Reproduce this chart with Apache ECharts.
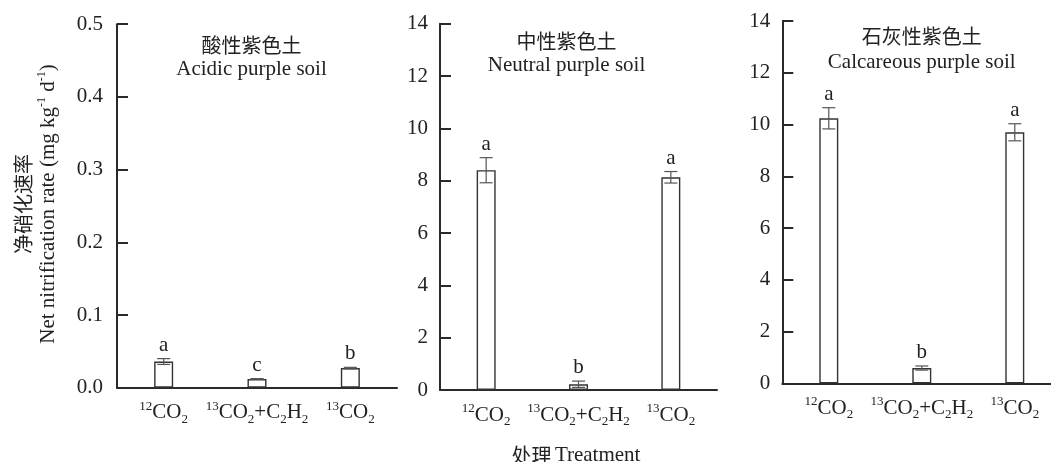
<!DOCTYPE html>
<html>
<head>
<meta charset="utf-8">
<script src="https://cdn.jsdelivr.net/npm/echarts@6/dist/echarts.min.js"></script>
<style>
html,body{margin:0;padding:0;background:#fff;}
#chart{width:1051px;height:462px;}
</style>
</head>
<body>
<div id="chart"></div>
<script>
// ---- data ----
var categories = ['12CO2', '13CO2+C2H2', '13CO2'];
var categoryLabels = [
  '{sup|12}{base|CO}{sub|2}',
  '{sup|13}{base|CO}{sub|2}{base|+C}{sub|2}{base|H}{sub|2}',
  '{sup|13}{base|CO}{sub|2}'
];
var panelTitlesCn = ['酸性紫色土', '中性紫色土', '石灰性紫色土'];
var panelTitlesEn = ['Acidic purple soil', 'Neutral purple soil', 'Calcareous purple soil'];

var acidicMeans = [0.036, 0.012, 0.027];
var acidicErr = [0.004, 0.0005, 0.001];
var acidicLetters = ['a', 'c', 'b'];

var neutralMeans = [8.40, 0.22, 8.13];
var neutralErr = [0.48, 0.12, 0.22];
var neutralLetters = ['a', 'b', 'a'];

var calcMeans = [10.24, 0.59, 9.70];
var calcErr = [0.41, 0.08, 0.33];
var calcLetters = ['a', 'b', 'a'];

var acidicTicks = [0, 0.5, 0.1];   // min, max, interval
var otherTicks = [0, 14, 2];

var yTitleCn = '净硝化速率';
var xTitle = '处理 Treatment';

// ---- styling ----
var FONT = '"Liberation Serif", "Times New Roman", "Noto Sans CJK SC", serif';
var TXT = '#222';
var AX = '#2a2a2a';

var chart = echarts.init(document.getElementById('chart'), null, {renderer: 'canvas'});

var grids = [
  {left: 117, top: 24.2, width: 280, height: 363.5},
  {left: 440, top: 23.7, width: 277, height: 366.3},
  {left: 782.3, top: 21, width: 279, height: 362.3}
];

var panels = [
  {means: acidicMeans, err: acidicErr, letters: acidicLetters, ticks: acidicTicks, digits: 1, labelMargin: 14},
  {means: neutralMeans, err: neutralErr, letters: neutralLetters, ticks: otherTicks, digits: 0, labelMargin: 12},
  {means: calcMeans, err: calcErr, letters: calcLetters, ticks: otherTicks, digits: 0, labelMargin: 12}
];

var richX = {
  base: {fontSize: 21, fontFamily: FONT, color: TXT, lineHeight: 26, verticalAlign: 'middle'},
  sup: {fontSize: 13, fontFamily: FONT, color: TXT, verticalAlign: 'top'},
  sub: {fontSize: 13, fontFamily: FONT, color: TXT, verticalAlign: 'bottom'}
};

var option = {
  backgroundColor: '#fff',
  animation: false,
  grid: grids.map(function (g) {
    return Object.assign({outerBoundsMode: 'none', containLabel: false}, g);
  }),
  xAxis: panels.map(function (p, i) {
    return {
      type: 'category',
      gridIndex: i,
      data: categories,
      axisLine: {show: true, onZero: false, lineStyle: {color: AX, width: 2}},
      axisTick: {show: false},
      splitLine: {show: false},
      axisLabel: {
        interval: 0,
        margin: 12,
        formatter: function (v, idx) { return categoryLabels[idx]; },
        rich: richX
      }
    };
  }),
  yAxis: panels.map(function (p, i) {
    return {
      type: 'value',
      gridIndex: i,
      min: p.ticks[0],
      max: p.ticks[1],
      interval: p.ticks[2],
      axisLine: {show: true, lineStyle: {color: AX, width: 2}},
      axisTick: {show: true, inside: true, length: 11, lineStyle: {color: AX, width: 2}},
      splitLine: {show: false},
      axisLabel: {
        margin: p.labelMargin,
        fontSize: 21,
        fontFamily: FONT,
        color: TXT,
        formatter: function (v) { return v.toFixed(p.digits); }
      }
    };
  }),
  series: [],
  graphic: []
};

panels.forEach(function (p, i) {
  option.series.push({
    type: 'bar',
    xAxisIndex: i,
    yAxisIndex: i,
    data: p.means,
    barWidth: 19,
    itemStyle: {color: '#fff', borderColor: '#333', borderWidth: 1.4},
    silent: true,
    z: 2
  });
  option.series.push({
    type: 'custom',
    xAxisIndex: i,
    yAxisIndex: i,
    z: 5,
    silent: true,
    data: p.means.map(function (m, k) { return [k, m - p.err[k], m + p.err[k]]; }),
    renderItem: function (params, api) {
      var x = api.value(0);
      var lo = api.coord([x, api.value(1)]);
      var hi = api.coord([x, api.value(2)]);
      var half = 6.5;
      var ls = {stroke: '#555', lineWidth: 1.2};
      return {
        type: 'group',
        children: [
          {type: 'line', shape: {x1: hi[0], y1: hi[1], x2: lo[0], y2: lo[1]}, style: ls},
          {type: 'line', shape: {x1: hi[0] - half, y1: hi[1], x2: hi[0] + half, y2: hi[1]}, style: ls},
          {type: 'line', shape: {x1: lo[0] - half, y1: lo[1], x2: lo[0] + half, y2: lo[1]}, style: ls},
          {type: 'text', style: {
            text: p.letters[params.dataIndex], x: hi[0], y: hi[1] - 3,
            align: 'center', verticalAlign: 'bottom',
            fontSize: 21, fontFamily: FONT, fill: TXT
          }}
        ]
      };
    }
  });
});

// panel titles
var titleCenters = [[251.5, 45, 69], [566.5, 41.7, 65.7], [921.7, 36.7, 62.3]];
titleCenters.forEach(function (c, i) {
  option.graphic.push({
    type: 'text', x: c[0], y: c[1],
    style: {text: panelTitlesCn[i], align: 'center', verticalAlign: 'middle',
      fontSize: 20, fontFamily: '"Noto Sans CJK SC", sans-serif', fill: TXT}
  });
  option.graphic.push({
    type: 'text', x: c[0], y: c[2],
    style: {text: panelTitlesEn[i], align: 'center', verticalAlign: 'middle',
      fontSize: 21, fontFamily: FONT, fill: TXT}
  });
});

// y-axis title (rotated, two lines)
option.graphic.push({
  type: 'text',
  x: 35.5, y: 204,
  rotation: Math.PI / 2,
  style: {
    text: '{cn|' + yTitleCn + '}\n{en|Net nitrification rate (mg kg}{sup|-1}{en| d}{sup|-1}{en|)}',
    align: 'center', verticalAlign: 'middle',
    rich: {
      cn: {fontSize: 20, fontFamily: '"Noto Sans CJK SC", sans-serif', fill: TXT, lineHeight: 25},
      en: {fontSize: 21, fontFamily: FONT, fill: TXT, lineHeight: 25, verticalAlign: 'middle'},
      sup: {fontSize: 12, fontFamily: FONT, fill: TXT, verticalAlign: 'top'}
    }
  }
});

// x-axis title
option.graphic.push({
  type: 'text', x: 576, y: 455,
  style: {
    text: '{cn|处理} {en|Treatment}',
    align: 'center', verticalAlign: 'middle',
    rich: {
      cn: {fontSize: 20, fontFamily: '"Noto Sans CJK SC", sans-serif', fill: TXT},
      en: {fontSize: 21, fontFamily: FONT, fill: TXT}
    }
  }
});

chart.setOption(option);
</script>
</body>
</html>
